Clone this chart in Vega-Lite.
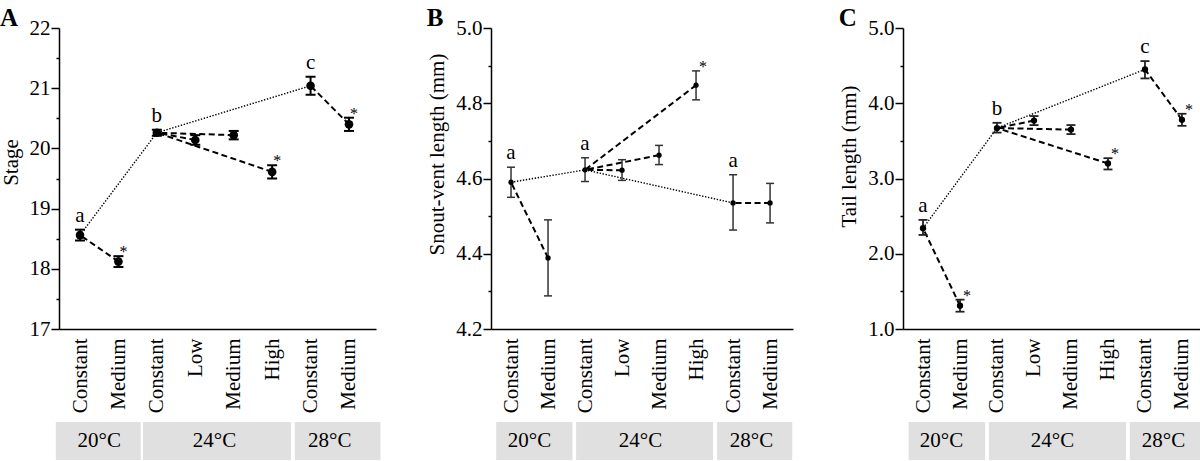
{
  "$schema": "https://vega.github.io/schema/vega-lite/v6.json",
  "background": "white",
  "padding": {"left": 0, "top": 6, "right": 0, "bottom": 0},
  "config": {
    "view": {"stroke": null},
    "font": "Liberation Serif",
    "axis": {"grid": false, "domainColor": "#000", "domainWidth": 1.5, "tickColor": "#000", "tickWidth": 1.5, "labelColor": "#000", "titleColor": "#000", "labelFont": "Liberation Serif", "titleFont": "Liberation Serif", "labelFontSize": 21, "titleFontSize": 21, "titleFontWeight": "normal", "labelOverlap": false, "labelFlush": false},
    "title": {"font": "Liberation Serif", "fontSize": 25, "fontWeight": "bold", "color": "#000", "anchor": "start", "frame": "bounds", "offset": 0}
  },
  "datasets": {
    "pts": [
      {"id": "A1", "panel": "A", "temp": "20°C", "level": "Constant", "idx": 1, "mean": 18.56, "lower": 18.47, "upper": 18.65, "letter": "a", "sig": "", "base": ""},
      {"id": "A2", "panel": "A", "temp": "20°C", "level": "Medium", "idx": 2, "mean": 18.12, "lower": 18.03, "upper": 18.21, "letter": "", "sig": "*", "base": "A1"},
      {"id": "A3", "panel": "A", "temp": "24°C", "level": "Constant", "idx": 3, "mean": 20.26, "lower": 20.21, "upper": 20.31, "letter": "b", "sig": "", "base": ""},
      {"id": "A4", "panel": "A", "temp": "24°C", "level": "Low", "idx": 4, "mean": 20.14, "lower": 20.06, "upper": 20.22, "letter": "", "sig": "", "base": "A3"},
      {"id": "A5", "panel": "A", "temp": "24°C", "level": "Medium", "idx": 5, "mean": 20.22, "lower": 20.15, "upper": 20.29, "letter": "", "sig": "", "base": "A3"},
      {"id": "A6", "panel": "A", "temp": "24°C", "level": "High", "idx": 6, "mean": 19.61, "lower": 19.5, "upper": 19.72, "letter": "", "sig": "*", "base": "A3"},
      {"id": "A7", "panel": "A", "temp": "28°C", "level": "Constant", "idx": 7, "mean": 21.04, "lower": 20.89, "upper": 21.19, "letter": "c", "sig": "", "base": ""},
      {"id": "A8", "panel": "A", "temp": "28°C", "level": "Medium", "idx": 8, "mean": 20.4, "lower": 20.29, "upper": 20.51, "letter": "", "sig": "*", "base": "A7"},
      {"id": "B1", "panel": "B", "temp": "20°C", "level": "Constant", "idx": 1, "mean": 4.59, "lower": 4.55, "upper": 4.63, "letter": "a", "sig": "", "base": ""},
      {"id": "B2", "panel": "B", "temp": "20°C", "level": "Medium", "idx": 2, "mean": 4.389, "lower": 4.288, "upper": 4.49, "letter": "", "sig": "", "base": "B1"},
      {"id": "B3", "panel": "B", "temp": "24°C", "level": "Constant", "idx": 3, "mean": 4.623, "lower": 4.592, "upper": 4.655, "letter": "a", "sig": "", "base": ""},
      {"id": "B4", "panel": "B", "temp": "24°C", "level": "Low", "idx": 4, "mean": 4.622, "lower": 4.595, "upper": 4.65, "letter": "", "sig": "", "base": "B3"},
      {"id": "B5", "panel": "B", "temp": "24°C", "level": "Medium", "idx": 5, "mean": 4.662, "lower": 4.637, "upper": 4.688, "letter": "", "sig": "", "base": "B3"},
      {"id": "B6", "panel": "B", "temp": "24°C", "level": "High", "idx": 6, "mean": 4.848, "lower": 4.809, "upper": 4.886, "letter": "", "sig": "*", "base": "B3"},
      {"id": "B7", "panel": "B", "temp": "28°C", "level": "Constant", "idx": 7, "mean": 4.535, "lower": 4.463, "upper": 4.61, "letter": "a", "sig": "", "base": ""},
      {"id": "B8", "panel": "B", "temp": "28°C", "level": "Medium", "idx": 8, "mean": 4.535, "lower": 4.482, "upper": 4.587, "letter": "", "sig": "", "base": "B7"},
      {"id": "C1", "panel": "C", "temp": "20°C", "level": "Constant", "idx": 1, "mean": 2.34, "lower": 2.25, "upper": 2.45, "letter": "a", "sig": "", "base": ""},
      {"id": "C2", "panel": "C", "temp": "20°C", "level": "Medium", "idx": 2, "mean": 1.31, "lower": 1.23, "upper": 1.39, "letter": "", "sig": "*", "base": "C1"},
      {"id": "C3", "panel": "C", "temp": "24°C", "level": "Constant", "idx": 3, "mean": 3.67, "lower": 3.61, "upper": 3.74, "letter": "b", "sig": "", "base": ""},
      {"id": "C4", "panel": "C", "temp": "24°C", "level": "Low", "idx": 4, "mean": 3.77, "lower": 3.71, "upper": 3.83, "letter": "", "sig": "", "base": "C3"},
      {"id": "C5", "panel": "C", "temp": "24°C", "level": "Medium", "idx": 5, "mean": 3.65, "lower": 3.59, "upper": 3.71, "letter": "", "sig": "", "base": "C3"},
      {"id": "C6", "panel": "C", "temp": "24°C", "level": "High", "idx": 6, "mean": 3.2, "lower": 3.12, "upper": 3.27, "letter": "", "sig": "*", "base": "C3"},
      {"id": "C7", "panel": "C", "temp": "28°C", "level": "Constant", "idx": 7, "mean": 4.45, "lower": 4.33, "upper": 4.56, "letter": "c", "sig": "", "base": ""},
      {"id": "C8", "panel": "C", "temp": "28°C", "level": "Medium", "idx": 8, "mean": 3.78, "lower": 3.7, "upper": 3.86, "letter": "", "sig": "*", "base": "C7"}
    ],
    "strips": [
      {"panel": "A", "temp": "20°C", "from": 0.37, "to": 2.58},
      {"panel": "A", "temp": "24°C", "from": 2.64, "to": 6.49},
      {"panel": "A", "temp": "28°C", "from": 6.59, "to": 8.82},
      {"panel": "B", "temp": "20°C", "from": 0.6, "to": 2.66},
      {"panel": "B", "temp": "24°C", "from": 2.76, "to": 6.46},
      {"panel": "B", "temp": "28°C", "from": 6.57, "to": 8.6},
      {"panel": "C", "temp": "20°C", "from": 0.61, "to": 2.68},
      {"panel": "C", "temp": "24°C", "from": 2.78, "to": 6.49},
      {"panel": "C", "temp": "28°C", "from": 6.59, "to": 8.65}
    ]
  },
  "spacing": 45,
  "hconcat": [
    {
      "bounds": "flush",
      "spacing": 93,
      "resolve": {"scale": {"x": "independent"}},
      "vconcat": [
        {
          "width": 317, "height": 301,
          "title": {"text": "A", "dy": 18},
          "data": {"name": "pts"},
          "transform": [{"filter": "datum.panel === 'A'"}],
          "encoding": {
            "x": {"field": "idx", "type": "quantitative", "scale": {"domain": [0.4535, 8.703], "nice": false, "zero": false},
              "axis": {"title": null, "values": [1, 2, 3, 4, 5, 6, 7, 8], "labelExpr": "['','Constant','Medium','Constant','Low','Medium','High','Constant','Medium'][datum.value]", "labelAngle": -90, "ticks": false, "labelPadding": 9}},
            "y": {"field": "mean", "type": "quantitative", "scale": {"domain": [17, 22], "nice": false, "zero": false},
              "axis": {"title": "Stage", "titleY": 134, "values": [17, 17.5, 18, 18.5, 19, 19.5, 20, 20.5, 21, 21.5, 22], "labelExpr": "datum.value % 1 === 0 ? format(datum.value, 'd') : ''", "tickSize": {"condition": {"test": "datum.value % 1 === 0", "value": 8}, "value": 3}, "labelPadding": 1, "titlePadding": 8}}
          },
          "layer": [
            {"transform": [{"filter": "datum.level === 'Constant'"}], "mark": {"type": "line", "stroke": "#000", "strokeWidth": 1.4, "strokeDash": [1.4, 1.6]}},
            {"transform": [{"filter": "datum.level !== 'Constant'"}, {"lookup": "base", "from": {"data": {"name": "pts"}, "key": "id", "fields": ["idx", "mean"]}, "as": ["bidx", "bmean"]}],
              "mark": {"type": "rule", "stroke": "#000", "strokeWidth": 2, "strokeDash": [6, 3.5]},
              "encoding": {"x2": {"field": "bidx"}, "y2": {"field": "bmean"}}},
            {"mark": {"type": "rule", "stroke": "#000", "strokeWidth": 2}, "encoding": {"y": {"field": "lower", "type": "quantitative"}, "y2": {"field": "upper"}}},
            {"mark": {"type": "tick", "orient": "horizontal", "color": "#000", "size": 10, "thickness": 2, "opacity": 1}, "encoding": {"y": {"field": "lower", "type": "quantitative"}}},
            {"mark": {"type": "tick", "orient": "horizontal", "color": "#000", "size": 10, "thickness": 2, "opacity": 1}, "encoding": {"y": {"field": "upper", "type": "quantitative"}}},
            {"mark": {"type": "point", "filled": true, "shape": "circle", "size": 75, "color": "#000", "opacity": 1}},
            {"transform": [{"filter": "datum.letter !== ''"}], "mark": {"type": "text", "fontSize": 21, "dy": -14, "color": "#000"}, "encoding": {"y": {"field": "upper", "type": "quantitative"}, "text": {"field": "letter"}}},
            {"transform": [{"filter": "datum.sig !== ''"}], "mark": {"type": "text", "fontSize": 16, "dx": 5, "dy": -4, "color": "#000"}, "encoding": {"y": {"field": "upper", "type": "quantitative"}, "text": {"field": "sig"}}}
          ]
        },
        {
          "width": 317, "height": 38,
          "layer": [
            {"data": {"name": "strips"}, "transform": [{"filter": "datum.panel === 'A'"}], "mark": {"type": "rect", "color": "#e0e0e0"},
              "encoding": {"x": {"field": "from", "type": "quantitative", "scale": {"domain": [0.4535, 8.703], "nice": false, "zero": false}, "axis": null}, "x2": {"field": "to"}}},
            {"data": {"name": "pts"}, "transform": [{"filter": "datum.panel === 'A'"}], "mark": {"type": "text", "fontSize": 21, "color": "#000"},
              "encoding": {"x": {"aggregate": "mean", "field": "idx", "type": "quantitative", "axis": null}, "text": {"field": "temp"}}}
          ]
        }
      ]
    },
    {
      "bounds": "flush",
      "spacing": 93,
      "resolve": {"scale": {"x": "independent"}},
      "vconcat": [
        {
          "width": 302, "height": 301,
          "title": {"text": "B", "dy": 18},
          "data": {"name": "pts"},
          "transform": [{"filter": "datum.panel === 'B'"}],
          "encoding": {
            "x": {"field": "idx", "type": "quantitative", "scale": {"domain": [0.459, 8.62], "nice": false, "zero": false},
              "axis": {"title": null, "values": [1, 2, 3, 4, 5, 6, 7, 8], "labelExpr": "['','Constant','Medium','Constant','Low','Medium','High','Constant','Medium'][datum.value]", "labelAngle": -90, "ticks": false, "labelPadding": 9}},
            "y": {"field": "mean", "type": "quantitative", "scale": {"domain": [4.2, 5.0], "nice": false, "zero": false},
              "axis": {"title": "Snout-vent length (mm)", "titleY": 126, "values": [4.2, 4.3, 4.4, 4.5, 4.6, 4.7, 4.8, 4.9, 5.0], "labelExpr": "round(datum.value * 10) % 2 === 0 ? format(datum.value, '.1f') : ''", "tickSize": {"condition": {"test": "round(datum.value * 10) % 2 === 0", "value": 8}, "value": 3}, "labelPadding": 1, "titlePadding": 8}}
          },
          "layer": [
            {"transform": [{"filter": "datum.level === 'Constant'"}], "mark": {"type": "line", "stroke": "#000", "strokeWidth": 1.4, "strokeDash": [1.4, 1.6]}},
            {"transform": [{"filter": "datum.level !== 'Constant'"}, {"lookup": "base", "from": {"data": {"name": "pts"}, "key": "id", "fields": ["idx", "mean"]}, "as": ["bidx", "bmean"]}],
              "mark": {"type": "rule", "stroke": "#000", "strokeWidth": 2, "strokeDash": [6, 3.5]},
              "encoding": {"x2": {"field": "bidx"}, "y2": {"field": "bmean"}}},
            {"mark": {"type": "rule", "stroke": "#333", "strokeWidth": 1.5}, "encoding": {"y": {"field": "lower", "type": "quantitative"}, "y2": {"field": "upper"}}},
            {"mark": {"type": "tick", "orient": "horizontal", "color": "#333", "size": 8, "thickness": 1.5, "opacity": 1}, "encoding": {"y": {"field": "lower", "type": "quantitative"}}},
            {"mark": {"type": "tick", "orient": "horizontal", "color": "#333", "size": 8, "thickness": 1.5, "opacity": 1}, "encoding": {"y": {"field": "upper", "type": "quantitative"}}},
            {"mark": {"type": "point", "filled": true, "shape": "circle", "size": 28, "color": "#000", "opacity": 1}},
            {"transform": [{"filter": "datum.letter !== ''"}], "mark": {"type": "text", "fontSize": 21, "dy": -14, "color": "#000"}, "encoding": {"y": {"field": "upper", "type": "quantitative"}, "text": {"field": "letter"}}},
            {"transform": [{"filter": "datum.sig !== ''"}], "mark": {"type": "text", "fontSize": 16, "dx": 7, "dy": -4, "color": "#000"}, "encoding": {"y": {"field": "upper", "type": "quantitative"}, "text": {"field": "sig"}}}
          ]
        },
        {
          "width": 302, "height": 38,
          "layer": [
            {"data": {"name": "strips"}, "transform": [{"filter": "datum.panel === 'B'"}], "mark": {"type": "rect", "color": "#e0e0e0"},
              "encoding": {"x": {"field": "from", "type": "quantitative", "scale": {"domain": [0.459, 8.62], "nice": false, "zero": false}, "axis": null}, "x2": {"field": "to"}}},
            {"data": {"name": "pts"}, "transform": [{"filter": "datum.panel === 'B'"}], "mark": {"type": "text", "fontSize": 21, "color": "#000"},
              "encoding": {"x": {"aggregate": "mean", "field": "idx", "type": "quantitative", "axis": null}, "text": {"field": "temp"}}}
          ]
        }
      ]
    },
    {
      "bounds": "flush",
      "spacing": 93,
      "resolve": {"scale": {"x": "independent"}},
      "vconcat": [
        {
          "width": 303, "height": 301,
          "title": {"text": "C", "dy": 18},
          "data": {"name": "pts"},
          "transform": [{"filter": "datum.panel === 'C'"}],
          "encoding": {
            "x": {"field": "idx", "type": "quantitative", "scale": {"domain": [0.459, 8.65], "nice": false, "zero": false},
              "axis": {"title": null, "values": [1, 2, 3, 4, 5, 6, 7, 8], "labelExpr": "['','Constant','Medium','Constant','Low','Medium','High','Constant','Medium'][datum.value]", "labelAngle": -90, "ticks": false, "labelPadding": 9}},
            "y": {"field": "mean", "type": "quantitative", "scale": {"domain": [1.0, 5.0], "nice": false, "zero": false},
              "axis": {"title": "Tail length (mm)", "titleY": 128, "values": [1, 1.5, 2, 2.5, 3, 3.5, 4, 4.5, 5], "labelExpr": "datum.value % 1 === 0 ? format(datum.value, '.1f') : ''", "tickSize": {"condition": {"test": "datum.value % 1 === 0", "value": 8}, "value": 3}, "labelPadding": 1, "titlePadding": 8}}
          },
          "layer": [
            {"transform": [{"filter": "datum.level === 'Constant'"}], "mark": {"type": "line", "stroke": "#000", "strokeWidth": 1.4, "strokeDash": [1.4, 1.6]}},
            {"transform": [{"filter": "datum.level !== 'Constant'"}, {"lookup": "base", "from": {"data": {"name": "pts"}, "key": "id", "fields": ["idx", "mean"]}, "as": ["bidx", "bmean"]}],
              "mark": {"type": "rule", "stroke": "#000", "strokeWidth": 2, "strokeDash": [6, 3.5]},
              "encoding": {"x2": {"field": "bidx"}, "y2": {"field": "bmean"}}},
            {"mark": {"type": "rule", "stroke": "#222", "strokeWidth": 1.8}, "encoding": {"y": {"field": "lower", "type": "quantitative"}, "y2": {"field": "upper"}}},
            {"mark": {"type": "tick", "orient": "horizontal", "color": "#222", "size": 9, "thickness": 1.8, "opacity": 1}, "encoding": {"y": {"field": "lower", "type": "quantitative"}}},
            {"mark": {"type": "tick", "orient": "horizontal", "color": "#222", "size": 9, "thickness": 1.8, "opacity": 1}, "encoding": {"y": {"field": "upper", "type": "quantitative"}}},
            {"mark": {"type": "point", "filled": true, "shape": "circle", "size": 40, "color": "#000", "opacity": 1}},
            {"transform": [{"filter": "datum.letter !== ''"}], "mark": {"type": "text", "fontSize": 21, "dy": -14, "color": "#000"}, "encoding": {"y": {"field": "upper", "type": "quantitative"}, "text": {"field": "letter"}}},
            {"transform": [{"filter": "datum.sig !== ''"}], "mark": {"type": "text", "fontSize": 16, "dx": 7, "dy": -4, "color": "#000"}, "encoding": {"y": {"field": "upper", "type": "quantitative"}, "text": {"field": "sig"}}}
          ]
        },
        {
          "width": 303, "height": 38,
          "layer": [
            {"data": {"name": "strips"}, "transform": [{"filter": "datum.panel === 'C'"}], "mark": {"type": "rect", "color": "#e0e0e0"},
              "encoding": {"x": {"field": "from", "type": "quantitative", "scale": {"domain": [0.459, 8.65], "nice": false, "zero": false}, "axis": null}, "x2": {"field": "to"}}},
            {"data": {"name": "pts"}, "transform": [{"filter": "datum.panel === 'C'"}], "mark": {"type": "text", "fontSize": 21, "color": "#000"},
              "encoding": {"x": {"aggregate": "mean", "field": "idx", "type": "quantitative", "axis": null}, "text": {"field": "temp"}}}
          ]
        }
      ]
    }
  ]
}
